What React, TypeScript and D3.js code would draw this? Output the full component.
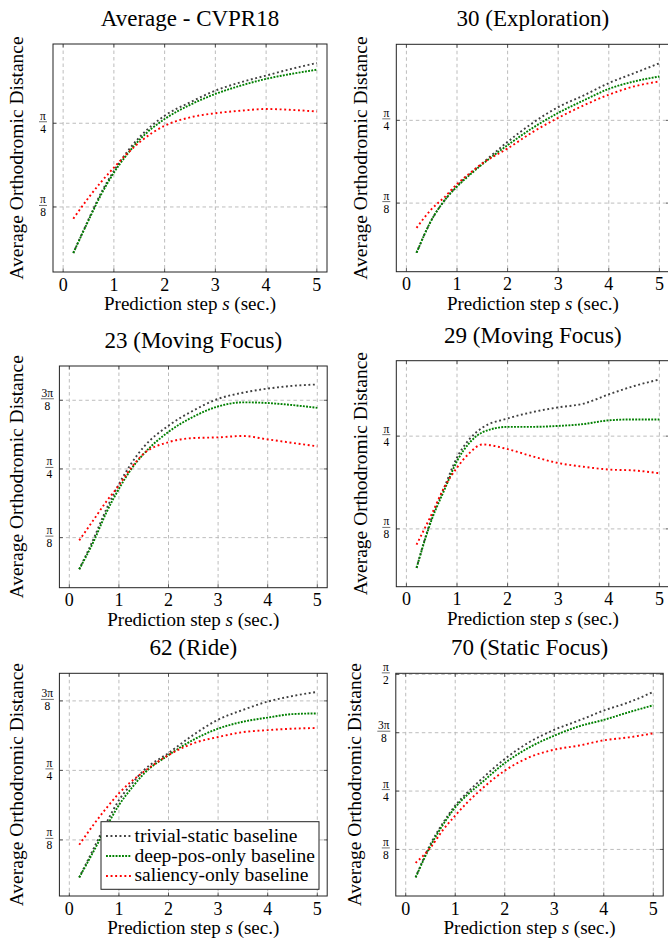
import React from "react";
import * as d3 from "d3";

// Prediction step (sec.)
const steps = [0.2, 0.5, 0.75, 1, 1.25, 1.5, 2, 2.5, 3, 3.5, 4, 4.5, 5];

// Average orthodromic distance, values in units of pi/8 rad
const avgTrivial = [0.45, 0.85, 1.17, 1.43, 1.65, 1.83, 2.09, 2.25, 2.39, 2.49, 2.57, 2.65, 2.72];
const avgDeep = [0.45, 0.84, 1.15, 1.41, 1.62, 1.8, 2.05, 2.22, 2.35, 2.45, 2.53, 2.59, 2.64];
const avgSal = [0.86, 1.11, 1.3, 1.47, 1.63, 1.77, 1.97, 2.07, 2.12, 2.15, 2.17, 2.16, 2.14];

const v30Trivial = [0.4, 0.8, 1.03, 1.21, 1.35, 1.48, 1.74, 1.97, 2.16, 2.3, 2.45, 2.57, 2.69];
const v30Deep = [0.4, 0.8, 1.03, 1.2, 1.34, 1.47, 1.7, 1.91, 2.09, 2.24, 2.38, 2.47, 2.53];
const v30Sal = [0.7, 0.93, 1.07, 1.23, 1.36, 1.48, 1.66, 1.86, 2.03, 2.18, 2.31, 2.41, 2.47];

const v23Trivial = [0.54, 1.0, 1.42, 1.78, 2.08, 2.32, 2.63, 2.85, 3.02, 3.11, 3.17, 3.21, 3.23];
const v23Deep = [0.54, 0.96, 1.37, 1.71, 2.0, 2.22, 2.54, 2.76, 2.91, 2.97, 2.96, 2.93, 2.89];
const v23Sal = [0.96, 1.27, 1.53, 1.76, 2.02, 2.22, 2.39, 2.45, 2.46, 2.48, 2.43, 2.38, 2.33];

const v29Trivial = [0.58, 1.12, 1.45, 1.77, 1.97, 2.09, 2.19, 2.26, 2.31, 2.35, 2.45, 2.54, 2.61];
const v29Deep = [0.58, 1.1, 1.42, 1.73, 1.93, 2.04, 2.1, 2.1, 2.11, 2.13, 2.17, 2.18, 2.18];
const v29Sal = [0.83, 1.16, 1.45, 1.66, 1.82, 1.91, 1.86, 1.78, 1.71, 1.67, 1.64, 1.63, 1.6];

const v62Trivial = [0.46, 0.89, 1.25, 1.57, 1.8, 2.0, 2.25, 2.51, 2.73, 2.87, 2.99, 3.07, 3.13];
const v62Deep = [0.46, 0.85, 1.19, 1.5, 1.74, 1.95, 2.22, 2.44, 2.6, 2.7, 2.76, 2.81, 2.82];
const v62Sal = [0.93, 1.23, 1.46, 1.67, 1.84, 1.98, 2.22, 2.39, 2.48, 2.55, 2.58, 2.6, 2.61];

const v70Trivial = [0.52, 1.09, 1.45, 1.75, 1.98, 2.18, 2.55, 2.84, 3.05, 3.21, 3.38, 3.52, 3.7];
const v70Deep = [0.52, 1.06, 1.42, 1.72, 1.94, 2.12, 2.48, 2.75, 2.95, 3.11, 3.22, 3.35, 3.47];
const v70Sal = [0.77, 1.03, 1.33, 1.58, 1.81, 2.01, 2.35, 2.58, 2.71, 2.78, 2.87, 2.92, 2.99];

const titles = ["Average - CVPR18", "30 (Exploration)", "23 (Moving Focus)", "29 (Moving Focus)", "62 (Ride)", "70 (Static Focus)"];
const seriesNames = ["trivial-static baseline", "deep-pos-only baseline", "saliency-only baseline"];
const xTicks = [0, 1, 2, 3, 4, 5];
const yTickValues = [1, 2, 3, 4];
const yTickNum = ["π", "π", "3π", "π"];
const yTickDen = ["8", "4", "8", "2"];
const xLabel = "Prediction step";
const yLabel = "Average Orthodromic Distance";

const panelData = [
  [avgTrivial, avgDeep, avgSal],
  [v30Trivial, v30Deep, v30Sal],
  [v23Trivial, v23Deep, v23Sal],
  [v29Trivial, v29Deep, v29Sal],
  [v62Trivial, v62Deep, v62Sal],
  [v70Trivial, v70Deep, v70Sal],
];

// layout (positions only)
const layout = [
  { left: 53, right: 327, top: 44, bottom: 272, ylab: 23 },
  { left: 396.3, right: 669.5, top: 44.3, bottom: 271.7, ylab: 367 },
  { left: 59.4, right: 327.2, top: 366, bottom: 587.7, ylab: 23 },
  { left: 396.3, right: 669.5, top: 360.7, bottom: 586.7, ylab: 367 },
  { left: 59.4, right: 327.2, top: 673.3, bottom: 896, ylab: 23 },
  { left: 395.8, right: 663.2, top: 673.3, bottom: 896, ylab: 361 },
];

const styles = [
  { color: "#404040", dash: "1.9 2.6", width: 1.9 },
  { color: "#008000", dash: "1.9 1.3", width: 1.9 },
  { color: "#ff0000", dash: "1.9 2.7", width: 1.9 },
];

const FF = "Liberation Serif";

function scalesFor(idx: number) {
  const L = layout[idx];
  const all = panelData[idx].flat();
  const lo = d3.min(all) as number;
  const hi = d3.max(all) as number;
  const pad = (hi - lo) * 0.1;
  const x = d3.scaleLinear().domain([-0.2, 5.2]).range([L.left, L.right]);
  const y = d3.scaleLinear().domain([lo - pad, hi + pad]).range([L.bottom, L.top]);
  const yt = yTickValues.filter((t) => t >= lo - pad && t <= hi + pad + 0.05);
  return { L, x, y, yt };
}

export default function App() {
  const panels = titles.map((_, i) => scalesFor(i));
  return (
    <svg width={668} height={940} style={{ position: "absolute", left: 0, top: 0 }}>
      <defs>
        {panels.map(({ L }, i) => (
          <clipPath key={i} id={`clip${i}`}>
            <rect x={L.left} y={L.top} width={L.right - L.left} height={L.bottom - L.top} />
          </clipPath>
        ))}
      </defs>
      <rect width={668} height={940} fill="#fff" />
      {panels.map(({ L, x, y, yt }, idx) => {
        const line = d3
          .line<number>()
          .x((_, i) => x(steps[i]))
          .y((d) => y(d))
          .curve(d3.curveMonotoneX);
        return (
          <g key={"p" + idx}>
            {xTicks.map((t) => (
              <line key={"gx" + t} x1={x(t)} x2={x(t)} y1={L.top} y2={L.bottom} stroke="#b5b5b5" strokeWidth={0.9} strokeDasharray="3.5 3" />
            ))}
            {yt.map((t) => (
              <line key={"gy" + t} x1={L.left} x2={L.right} y1={y(t)} y2={y(t)} stroke="#b5b5b5" strokeWidth={0.9} strokeDasharray="3.5 3" />
            ))}
            {xTicks.map((t) => (
              <g key={"tx" + t}>
                <line x1={x(t)} x2={x(t)} y1={L.bottom} y2={L.bottom - 3.5} stroke="#333" strokeWidth={0.8} />
                <line x1={x(t)} x2={x(t)} y1={L.top} y2={L.top + 3.5} stroke="#333" strokeWidth={0.8} />
              </g>
            ))}
            {yt.map((t) => {
              const num = yTickNum[t - 1];
              const cxl = L.left - (num.length > 1 ? 12 : 10);
              const hw = num.length > 1 ? 6.5 : 4;
              return (
                <g key={"ty" + t}>
                  <line x1={L.left} x2={L.left + 3.5} y1={y(t)} y2={y(t)} stroke="#333" strokeWidth={0.8} />
                  <line x1={L.right} x2={L.right - 3.5} y1={y(t)} y2={y(t)} stroke="#333" strokeWidth={0.8} />
                  <line x1={cxl - hw} x2={cxl + hw} y1={y(t) - 1.5} y2={y(t) - 1.5} stroke="#111" strokeWidth={0.6} />
                </g>
              );
            })}
            <g clipPath={`url(#clip${idx})`}>
              {panelData[idx].map((s, i) => (
                <path key={i} d={line(s) || ""} fill="none" stroke={styles[i].color} strokeWidth={styles[i].width} strokeDasharray={styles[i].dash} />
              ))}
            </g>
            <rect x={L.left} y={L.top} width={L.right - L.left} height={L.bottom - L.top} fill="none" stroke="#222" strokeWidth={1} />
          </g>
        );
      })}
      {/* legend graphics */}
      <rect x={101} y={821.7} width={218} height={67.6} fill="#fff" stroke="#222" strokeWidth={1} />
      {seriesNames.map((n, i) => (
        <line key={"ll" + i} x1={106} x2={131} y1={836 + i * 20} y2={836 + i * 20} stroke={styles[i].color} strokeWidth={styles[i].width} strokeDasharray={styles[i].dash} />
      ))}
      {/* all texts */}
      {panels.map(({ L, x, y, yt }, idx) => {
        const cx = (L.left + L.right) / 2;
        const cy = (L.top + L.bottom) / 2;
        return [
          ...xTicks.map((t) => (
            <text key={`xt${idx}-${t}`} x={x(t)} y={L.bottom + 18.5} fontSize={18} fontFamily={FF} textAnchor="middle">
              {t}
            </text>
          )),
          ...yt.map((t) => {
            const num = yTickNum[t - 1];
            const cxl = L.left - (num.length > 1 ? 12 : 10);
            return (
              <text key={`yn${idx}-${t}`} x={cxl} y={y(t) - 3.5} fontSize={11.5} fontFamily={FF} textAnchor="middle">
                {num}
              </text>
            );
          }),
          ...yt.map((t) => {
            const num = yTickNum[t - 1];
            const cxl = L.left - (num.length > 1 ? 12 : 10);
            return (
              <text key={`yd${idx}-${t}`} x={cxl} y={y(t) + 9.5} fontSize={11.5} fontFamily={FF} textAnchor="middle">
                {yTickDen[t - 1]}
              </text>
            );
          }),
          <text key={`ti${idx}`} x={cx} y={L.top - 18} fontSize={23} fontFamily={FF} textAnchor="middle">
            {titles[idx]}
          </text>,
          <text key={`xl${idx}`} x={cx} y={L.bottom + 38} fontSize={19} fontFamily={FF} textAnchor="middle">
            {xLabel} <tspan fontStyle="italic">s</tspan> (sec.)
          </text>,
          <text key={`yl${idx}`} transform={`translate(${L.ylab},${cy}) rotate(-90)`} fontSize={19.5} fontFamily={FF} textAnchor="middle">
            {yLabel}
          </text>,
        ];
      })}
      {seriesNames.map((n, i) => (
        <text key={"lt" + i} x={134.5} y={842 + i * 19.7} fontSize={19.5} fontFamily={FF}>
          {n}
        </text>
      ))}
    </svg>
  );
}
